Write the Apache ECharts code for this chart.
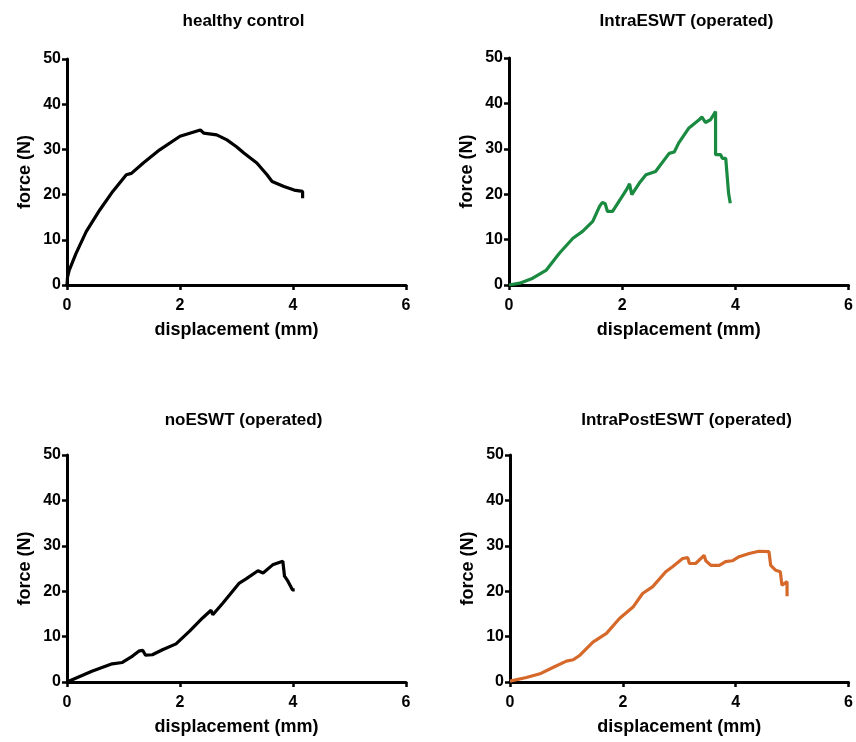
<!DOCTYPE html>
<html>
<head>
<meta charset="utf-8">
<script src="https://cdn.jsdelivr.net/npm/echarts@6/dist/echarts.min.js"></script>
<style>
    html, body { margin: 0; padding: 0; background: #fff; }
    #chart { width: 856px; height: 742px; }
</style>
</head>
<body>
<div id="chart"></div>
<script>
// displacement (mm) / force (N) pairs
const healthyControl = [
    [0, 0], [0.01, 1.8], [0.04, 3.3], [0.16, 7], [0.34, 11.8], [0.58, 16.6], [0.81, 20.7],
    [1.05, 24.4], [1.14, 24.7], [1.35, 27], [1.64, 29.9], [2.0, 32.9], [2.36, 34.3],
    [2.42, 33.6], [2.65, 33.2], [2.83, 32.1], [3.0, 30.6], [3.13, 29.2], [3.36, 27],
    [3.54, 24.4], [3.63, 22.9], [3.84, 21.8], [4.02, 21], [4.17, 20.7], [4.17, 19.2]
]
const intraESWT = [
    [0, 0], [0.19, 0.4], [0.42, 1.5], [0.66, 3.3], [0.89, 7], [1.13, 10.3], [1.3, 11.8],
    [1.48, 14], [1.6, 17.3], [1.65, 18.2], [1.7, 17.9], [1.74, 16.2], [1.83, 16.2],
    [2.0, 19.5], [2.09, 21.3], [2.13, 22.3], [2.17, 19.9], [2.3, 22.4], [2.42, 24.3],
    [2.59, 25], [2.83, 29], [2.92, 29.3], [3.0, 31.3], [3.18, 34.6], [3.36, 36.4],
    [3.41, 37], [3.47, 35.8], [3.56, 36.4], [3.65, 38.2], [3.65, 28.7], [3.74, 28.7],
    [3.77, 27.9], [3.83, 27.9], [3.88, 20.2], [3.91, 18]
]
const noESWT = [
    [0, 0], [0.44, 2.35], [0.8, 4.0], [0.98, 4.3], [1.16, 5.7], [1.27, 6.8], [1.34, 7.0],
    [1.39, 5.9], [1.51, 6.0], [1.69, 7.1], [1.93, 8.4], [2.17, 11.2], [2.4, 14.1],
    [2.55, 15.8], [2.58, 14.8], [2.76, 17.4], [3.05, 21.8], [3.17, 22.7], [3.38, 24.5],
    [3.47, 24], [3.64, 25.8], [3.82, 26.6], [3.85, 23.3], [3.91, 22.2], [3.99, 20.3], [4.03, 20.3]
]
const intraPostESWT = [
    [0, 0.2], [0.29, 1], [0.53, 1.8], [0.76, 3.2], [1.0, 4.6], [1.12, 4.9], [1.24, 5.9],
    [1.47, 8.8], [1.71, 10.7], [1.94, 14], [2.18, 16.5], [2.35, 19.5], [2.53, 21],
    [2.76, 24.3], [2.88, 25.4], [3.06, 27.2], [3.15, 27.4], [3.18, 26.1], [3.29, 26.1],
    [3.44, 27.9], [3.47, 26.7], [3.56, 25.7], [3.71, 25.7], [3.82, 26.5], [3.94, 26.7],
    [4.06, 27.6], [4.24, 28.3], [4.41, 28.8], [4.59, 28.7], [4.62, 25.7], [4.71, 24.6],
    [4.79, 24.3], [4.82, 21.3], [4.91, 22.1], [4.91, 18.9]
]

const panelTitles = ['healthy control', 'IntraESWT (operated)', 'noESWT (operated)', 'IntraPostESWT (operated)']
const panelData = [healthyControl, intraESWT, noESWT, intraPostESWT]
const panelColors = ['#000000', '#1a8a40', '#000000', '#d6692a']
const xTicks = { min: 0, max: 6, interval: 2 }
const yTicks = { min: 0, max: 50, interval: 10 }

const grids = [
    { left: 67, top: 59, width: 339, height: 226 },
    { left: 509, top: 58, width: 341, height: 227 },
    { left: 67, top: 455, width: 339, height: 227 },
    { left: 510, top: 455, width: 339, height: 227 }
]

const font = 'Liberation Sans, Arial, sans-serif'
const axisLine = { show: true, lineStyle: { color: '#000', width: 3 } }
const axisTick = { show: true, length: 5, lineStyle: { color: '#000', width: 2.5 } }
const axisLabel = { color: '#000', fontSize: 16, fontWeight: 'bold', fontFamily: font }
const nameStyle = { color: '#000', fontSize: 18, fontWeight: 'bold', fontFamily: font }

let myChart = echarts.init(document.getElementById('chart'))
let option = {
    backgroundColor: '#fff',
    animation: false,
    title: grids.map((g, i) => ({
        text: panelTitles[i],
        left: g.left + g.width / 2 + 2,
        top: i < 2 ? 8 : 407,
        textAlign: 'center',
        textStyle: { color: '#000', fontSize: 17, fontWeight: 'bold', fontFamily: font }
    })),
    grid: grids,
    xAxis: grids.map((g, i) => ({
        type: 'value',
        gridIndex: i,
        min: xTicks.min,
        max: xTicks.max,
        interval: xTicks.interval,
        name: 'displacement (mm)',
        nameLocation: 'middle',
        nameGap: 36,
        nameTextStyle: nameStyle,
        axisLine: axisLine,
        axisTick: axisTick,
        axisLabel: Object.assign({ margin: 13 }, axisLabel),
        splitLine: { show: false }
    })),
    yAxis: grids.map((g, i) => ({
        type: 'value',
        gridIndex: i,
        min: yTicks.min,
        max: yTicks.max,
        interval: yTicks.interval,
        name: 'force (N)',
        nameLocation: 'middle',
        nameGap: 33,
        nameTextStyle: nameStyle,
        axisLine: axisLine,
        axisTick: axisTick,
        axisLabel: Object.assign({ margin: 6 }, axisLabel),
        splitLine: { show: false }
    })),
    series: panelData.map((d, i) => ({
        type: 'line',
        xAxisIndex: i,
        yAxisIndex: i,
        data: d,
        showSymbol: false,
        lineStyle: { color: panelColors[i], width: 3.2 },
        z: 1
    }))
}

option && myChart.setOption(option)
</script>
</body>
</html>
